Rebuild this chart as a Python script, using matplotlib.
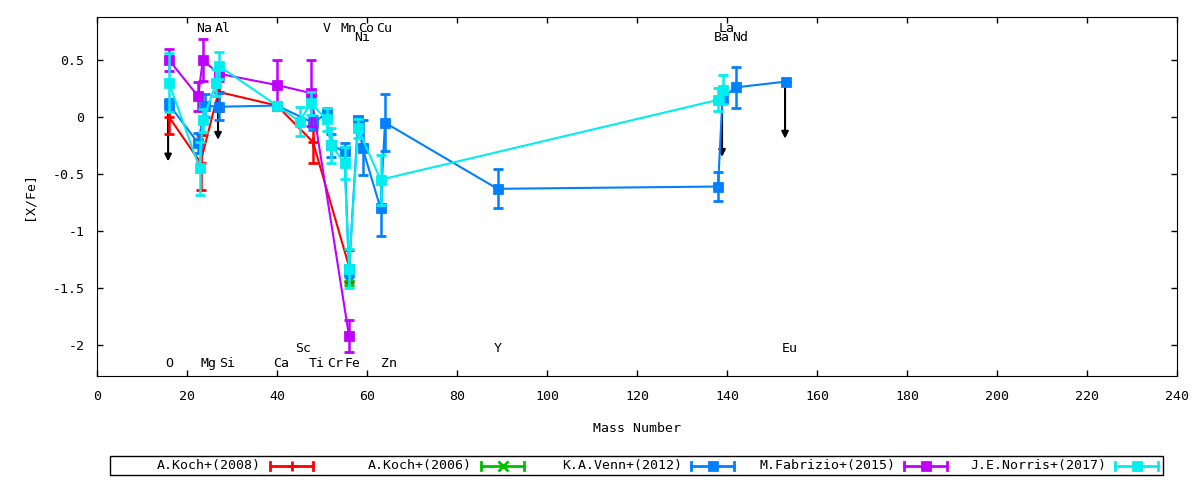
import matplotlib
matplotlib.use('Agg')
import matplotlib.pyplot as plt
from matplotlib.lines import Line2D
from matplotlib.patches import Rectangle

plt.rcParams['font.family'] = ['DejaVu Sans Mono']
plt.rcParams['font.size'] = 9.5
plt.rcParams['axes.unicode_minus'] = False

# A.Koch+(2008)
koch08_x = [16, 23, 27, 40, 48, 56]
koch08_y = [0.0, -0.40, 0.22, 0.10, -0.22, -1.31]
koch08_err = [0.15, 0.24, 0.17, 0.03, 0.18, 0.14]

# A.Koch+(2006)
koch06_x = [56]
koch06_y = [-1.40]
koch06_err = [0.07]

# K.A.Venn+(2012)
venn_x = [16, 22.5, 24, 27, 40, 48, 51, 52, 55, 56, 58, 59, 63, 64, 89, 138, 139, 142, 153]
venn_y = [0.11, -0.23, 0.10, 0.09, 0.10, -0.05, 0.03, -0.25, -0.30, -1.35, -0.03, -0.27,
          -0.80, -0.05, -0.63, -0.61, 0.17, 0.26, 0.31]
venn_err = [0.05, 0.09, 0.10, 0.12, 0.03, 0.06, 0.05, 0.10, 0.07, 0.05, 0.03, 0.24,
            0.24, 0.25, 0.17, 0.13, 0.05, 0.18, 0.0]

# M.Fabrizio+(2015)
fabrizio_x = [16, 22.5, 23.5, 27, 40, 47.5, 56]
fabrizio_y = [0.50, 0.18, 0.50, 0.38, 0.28, 0.21, -1.92]
fabrizio_err = [0.10, 0.13, 0.18, 0.06, 0.22, 0.29, 0.14]

# J.E.Norris+(2017)
norris_x = [16, 22.8, 23.5, 26.5, 27, 40, 45, 47.5, 51, 52, 55, 56, 58, 63, 138, 139]
norris_y = [0.30, -0.45, -0.03, 0.30, 0.45, 0.10, -0.04, 0.12, -0.02, -0.25, -0.40, -1.33,
            -0.10, -0.55, 0.15, 0.24]
norris_err = [0.26, 0.23, 0.10, 0.12, 0.12, 0.03, 0.13, 0.10, 0.10, 0.15, 0.14, 0.17,
              0.08, 0.22, 0.10, 0.13]

# upper limits (arrows)
ul_x = [15.8, 26.9, 138.9, 152.9]
ul_y = [0.11, 0.30, 0.15, 0.31]
ul_len = 0.5

# element labels
top_el = ['Na', 'Al', 'V', 'Mn', 'Co', 'Cu', 'La']
top_mass = [23, 27, 51, 55, 59, 63, 139]
top2_el = ['Ni', 'Ba', 'Nd']
top2_mass = [58, 138, 142]
bot_el = ['O', 'Mg', 'Si', 'Ca', 'Ti', 'Cr', 'Fe', 'Zn']
bot_mass = [16, 24, 28, 40, 48, 52, 56, 64]
bot2_el = ['Sc', 'Y', 'Eu']
bot2_mass = [45, 89, 153]

series = [
    ('A.Koch+(2008)', koch08_x, koch08_y, koch08_err, '#ff0000', '+'),
    ('A.Koch+(2006)', koch06_x, koch06_y, koch06_err, '#00c000', 'x'),
    ('K.A.Venn+(2012)', venn_x, venn_y, venn_err, '#0080ff', 's'),
    ('M.Fabrizio+(2015)', fabrizio_x, fabrizio_y, fabrizio_err, '#c000ff', 's'),
    ('J.E.Norris+(2017)', norris_x, norris_y, norris_err, '#00eeee', 's'),
]

W, H = 1200, 480
fig = plt.figure(figsize=(12, 4.8), dpi=100)
ax = fig.add_axes([97 / W, 1 - 376 / H, (1177 - 97) / W, (376 - 17) / H])

for i, (lab, x, y, e, c, m) in enumerate(series):
    ax.errorbar(x, y, yerr=e, color=c, lw=1.5, elinewidth=1.8, capsize=3.5, capthick=1.8,
                marker=m, ms=6 if m == 's' else 7, mew=2, zorder=3 + i)

for x, y in zip(ul_x, ul_y):
    ax.annotate('', xy=(x, y - ul_len), xytext=(x, y),
                arrowprops=dict(arrowstyle='-|>', color='black', lw=1.5,
                                mutation_scale=10, shrinkA=0, shrinkB=0), zorder=2)

for els, ms, yy in [(top_el, top_mass, 0.78), (top2_el, top2_mass, 0.70),
                    (bot_el, bot_mass, -2.16), (bot2_el, bot2_mass, -2.035)]:
    for el, mm in zip(els, ms):
        ax.text(mm - 0.9, yy, el, ha='left', va='center', fontsize=9.5)

ax.set_xlim(0, 240)
ax.set_ylim(-2.272, 0.877)
ax.set_xticks(range(0, 241, 20))
yt = [-2, -1.5, -1, -0.5, 0, 0.5]
ax.set_yticks(yt)
ax.set_yticklabels(['-2', '-1.5', '-1', '-0.5', '0', '0.5'])
ax.tick_params(direction='in', length=4, width=1, top=True, right=True)
ax.tick_params(axis='x', pad=10)
ax.tick_params(axis='y', pad=9)
ax.set_xlabel('Mass Number', labelpad=14)
ax.set_ylabel('[X/Fe]', labelpad=12)

# legend drawn in gnuplot style
def fx(px):
    return px / W

def fy(py):
    return 1 - py / H

fig.patches.append(Rectangle((fx(110), fy(475)), fx(1163) - fx(110), fy(456) - fy(475),
                             transform=fig.transFigure, fill=False, ec='black', lw=1))
line_starts = [270, 481, 691, 904, 1115]
ly = 465.5
for (lab, x, y, e, c, m), ls in zip(series, line_starts):
    fig.text(fx(ls - 9), fy(ly), lab, ha='right', va='center', fontsize=9.5)
    le = ls + 43
    fig.add_artist(Line2D([fx(ls), fx(le)], [fy(ly), fy(ly)], color=c, lw=2,
                          transform=fig.transFigure))
    for xx in (ls, le):
        fig.add_artist(Line2D([fx(xx), fx(xx)], [fy(ly - 4), fy(ly + 4)], color=c, lw=2,
                              transform=fig.transFigure))
    fig.add_artist(Line2D([fx((ls + le) / 2)], [fy(ly)], color=c, marker=m,
                          ms=6 if m == 's' else 7, mew=2, transform=fig.transFigure))

fig.savefig('out.png', dpi=100)
